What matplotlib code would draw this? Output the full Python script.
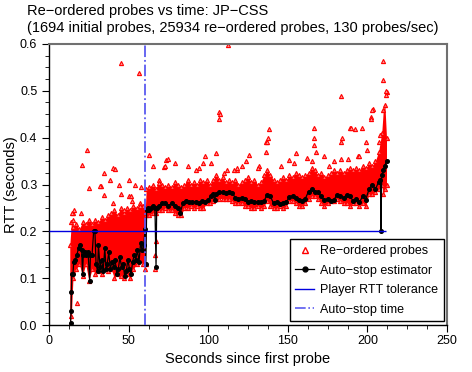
import matplotlib
matplotlib.use("Agg")
import matplotlib.pyplot as plt
from matplotlib.ticker import MultipleLocator, FormatStrFormatter
from matplotlib.lines import Line2D

plt.rcParams["font.family"] = ["Liberation Sans", "DejaVu Sans"]

# Re-ordered probes: dense band (upper / lower edge)
band_t = [13, 14, 15, 17, 19, 21, 23, 25, 27, 29, 31, 33, 35, 37, 39, 41, 43, 45, 47,
          49, 51, 53, 55, 57, 59, 60.5, 61, 63, 65, 67, 69, 71, 73, 75, 77, 79, 81,
          83, 85, 87, 89, 91, 93, 95, 97, 99, 101, 103, 105, 107, 109, 111, 113, 115,
          117, 119, 121, 123, 125, 127, 129, 131, 133, 135, 137, 139, 141, 143, 145,
          147, 149, 151, 153, 155, 157, 159, 161, 163, 165, 167, 169, 171, 173, 175,
          177, 179, 181, 183, 185, 187, 189, 191, 193, 195, 197, 199, 201, 203, 205,
          207, 209, 210, 211, 212]
band_top = [0.17, 0.22, 0.21, 0.215, 0.205, 0.22, 0.215, 0.225, 0.215, 0.225, 0.22,
            0.23, 0.225, 0.235, 0.24, 0.245, 0.235, 0.25, 0.24, 0.25, 0.245, 0.255,
            0.25, 0.26, 0.255, 0.25, 0.29, 0.295, 0.3, 0.29, 0.31, 0.3, 0.295, 0.3,
            0.295, 0.305, 0.3, 0.295, 0.3, 0.31, 0.3, 0.305, 0.3, 0.31, 0.305, 0.31,
            0.3, 0.31, 0.32, 0.31, 0.315, 0.305, 0.31, 0.305, 0.31, 0.3, 0.305, 0.31,
            0.315, 0.305, 0.31, 0.3, 0.305, 0.32, 0.33, 0.32, 0.31, 0.305, 0.31, 0.315,
            0.31, 0.32, 0.315, 0.325, 0.32, 0.315, 0.32, 0.325, 0.335, 0.33, 0.32,
            0.325, 0.315, 0.32, 0.325, 0.33, 0.325, 0.33, 0.325, 0.33, 0.335, 0.33,
            0.335, 0.33, 0.34, 0.335, 0.345, 0.34, 0.35, 0.37, 0.41, 0.46, 0.47, 0.4]
band_bot = [0.0, 0.02, 0.1, 0.12, 0.13, 0.105, 0.13, 0.095, 0.12, 0.11, 0.115, 0.11,
            0.12, 0.115, 0.12, 0.1, 0.11, 0.105, 0.1, 0.11, 0.1, 0.12, 0.13, 0.14,
            0.13, 0.12, 0.235, 0.235, 0.24, 0.24, 0.245, 0.245, 0.25, 0.245, 0.245,
            0.24, 0.235, 0.235, 0.25, 0.25, 0.255, 0.25, 0.255, 0.25, 0.25, 0.26, 0.26,
            0.265, 0.27, 0.27, 0.27, 0.27, 0.27, 0.265, 0.26, 0.26, 0.26, 0.255, 0.255,
            0.25, 0.25, 0.255, 0.25, 0.255, 0.265, 0.255, 0.25, 0.25, 0.255, 0.25,
            0.255, 0.265, 0.265, 0.26, 0.255, 0.255, 0.26, 0.27, 0.275, 0.275, 0.27,
            0.26, 0.255, 0.26, 0.265, 0.265, 0.27, 0.265, 0.26, 0.26, 0.255, 0.26,
            0.26, 0.255, 0.26, 0.255, 0.28, 0.28, 0.285, 0.29, 0.3, 0.28, 0.29, 0.3]

# isolated re-ordered probes outside the band
out_t = [112.5, 45, 56.8, 23.7, 20.7, 25, 32.2, 34.3, 40, 41.6, 17.4, 38.5, 44, 50,
         54, 14.5, 15.5, 62.7, 65, 75, 73, 98, 104.8, 107, 107, 107.2, 125.6, 138,
         137.5, 137, 155, 166.4, 166.5, 166.5, 183.7, 183.8, 190, 192, 196.6, 199,
         203, 202.5, 209.8, 210, 211.8, 211.8, 66.5, 66.8, 67, 60.8, 87, 92, 118,
         131, 146, 176, 188, 195]
out_rtt = [0.597, 0.56, 0.538, 0.374, 0.342, 0.293, 0.297, 0.325, 0.335, 0.333, 0.047,
           0.31, 0.3, 0.31, 0.3, 0.24, 0.245, 0.362, 0.34, 0.355, 0.34, 0.36, 0.367,
           0.44, 0.455, 0.45, 0.363, 0.419, 0.40, 0.39, 0.367, 0.42, 0.40, 0.385,
           0.488, 0.4, 0.42, 0.418, 0.42, 0.39, 0.46, 0.44, 0.564, 0.522, 0.50, 0.49,
           0.12, 0.15, 0.18, 0.13, 0.34, 0.33, 0.335, 0.335, 0.34, 0.34, 0.355, 0.36]

# probes just above the band edge (its spiky fringe)
fringe_t = [32.8, 34.3, 14.9, 14.9, 20.3, 40, 45, 50, 51.6, 52, 57.8, 57, 47, 72.5,
            73.5, 79, 94, 97, 102, 110, 112, 118, 69, 116, 121.5, 124, 132, 136, 136,
            150.7, 154, 162, 165, 168, 172.7, 183.3, 189, 202, 203.3, 199.5, 194,
            183.7, 179, 207, 208, 212.3]
fringe_rtt = [0.296, 0.278, 0.225, 0.24, 0.24, 0.26, 0.28, 0.275, 0.275, 0.265, 0.295,
              0.255, 0.245, 0.338, 0.352, 0.345, 0.335, 0.345, 0.345, 0.325, 0.33, 0.33,
              0.303, 0.33, 0.34, 0.35, 0.34, 0.37, 0.39, 0.352, 0.345, 0.357, 0.35, 0.37,
              0.36, 0.39, 0.42, 0.444, 0.462, 0.373, 0.36, 0.355, 0.351, 0.39, 0.405,
              0.498]

# Auto-stop estimator
est_t = [13.5, 13.8, 14.0, 14.3, 15, 15.5, 16.5, 17.5, 18.5, 19.5, 20.5, 21, 21.5,
         22.5, 23.5, 24.5, 25.5, 26, 27, 28, 28.8, 29.5, 30.5, 31, 32, 33, 34, 35,
         35.8, 36.5, 37.5, 38.5, 39.5, 40.5, 41.5, 42.5, 43.5, 44.5, 45.5, 46.5,
         47.5, 48.5, 49.5, 50.5, 51.5, 52.5, 53.5, 54.5, 55.5, 56.5, 57.5, 58.5,
         59.5, 60.3, 60.8, 61.3, 62, 63, 64, 65, 66.5, 67.2, 67.6, 69, 71, 73, 75,
         77, 79, 81, 82.5, 84, 86, 88, 90, 92, 94, 96, 98, 100, 101.5, 103, 104,
         105, 107, 109, 111, 113, 115, 117, 119, 121, 123, 125, 127, 129, 131, 133,
         135, 137, 139, 141, 143, 145, 147, 149, 151, 153, 155, 157, 159, 161, 163,
         165, 167, 169, 171, 173, 175, 177, 179, 181, 183, 185, 187, 189, 191, 193,
         195, 197, 199, 201, 203, 205, 207, 208.2, 208.5, 209, 210, 211, 212]
est_rtt = [0.005, 0.03, 0.07, 0.11, 0.11, 0.135, 0.14, 0.15, 0.165, 0.17, 0.16, 0.11,
           0.15, 0.155, 0.15, 0.155, 0.095, 0.15, 0.15, 0.2, 0.2, 0.13, 0.115, 0.17,
           0.125, 0.14, 0.115, 0.165, 0.12, 0.13, 0.155, 0.12, 0.135, 0.125, 0.14,
           0.11, 0.12, 0.145, 0.125, 0.13, 0.105, 0.115, 0.14, 0.12, 0.11, 0.135,
           0.15, 0.14, 0.16, 0.135, 0.175, 0.16, 0.17, 0.205, 0.13, 0.245, 0.25,
           0.245, 0.25, 0.255, 0.25, 0.125, 0.25, 0.255, 0.26, 0.26, 0.255, 0.26,
           0.255, 0.25, 0.24, 0.26, 0.265, 0.262, 0.263, 0.262, 0.26, 0.265, 0.262,
           0.268, 0.275, 0.28, 0.268, 0.28, 0.283, 0.283, 0.282, 0.283, 0.282, 0.272,
           0.27, 0.272, 0.27, 0.262, 0.264, 0.262, 0.263, 0.262, 0.265, 0.278, 0.275,
           0.26, 0.262, 0.258, 0.26, 0.262, 0.274, 0.276, 0.272, 0.268, 0.265, 0.27,
           0.285, 0.29, 0.285, 0.283, 0.275, 0.266, 0.27, 0.265, 0.268, 0.278, 0.276,
           0.272, 0.278, 0.275, 0.265, 0.27, 0.262, 0.275, 0.268, 0.29, 0.3, 0.29,
           0.305, 0.31, 0.2, 0.32, 0.33, 0.34, 0.35]

rtt_tolerance = 0.2
last_probe_time = 211.5
auto_stop_time = 60.5

red = "#ff0000"
tri = dict(ls="none", marker="^", ms=3, mec=red, mew=0.8, zorder=2)

fig = plt.figure(figsize=(4.72, 3.72), dpi=100)
ax = fig.add_axes([0.104, 0.126, 0.843, 0.756])

# dense cloud of re-ordered probes
ax.fill_between(band_t, band_bot, band_top, color=red, lw=0, zorder=2)
ax.plot(band_t, band_top, mfc="#ff6060", **tri)
ax.plot(band_t, band_bot, mfc="#ff6060", **tri)
ax.plot(fringe_t, fringe_rtt, mfc="#ff8080", **tri)
ax.plot(out_t, out_rtt, mfc="#ff9090", **tri)

ax.plot(est_t, est_rtt, color="black", lw=0.9, marker="o", ms=2.6, zorder=3)

ax.hlines(rtt_tolerance, 0, last_probe_time, color="#0000e0", lw=1.0, zorder=4)
ax.axvline(auto_stop_time, color="#5a5af0", lw=1.3, ls="-.", zorder=4)

ax.set_xlim(0, 250)
ax.set_ylim(0, 0.6)
ax.xaxis.set_major_locator(MultipleLocator(50))
ax.xaxis.set_minor_locator(MultipleLocator(12.5))
ax.yaxis.set_major_locator(MultipleLocator(0.1))
ax.yaxis.set_minor_locator(MultipleLocator(0.025))
ax.yaxis.set_major_formatter(FormatStrFormatter("%.1f"))
ax.tick_params(which="both", direction="out", labelsize=9, colors="black")
ax.tick_params(which="major", length=5)
ax.tick_params(which="minor", length=3)
ax.tick_params(axis="x", pad=2)
for side in ("top", "right"):
    ax.spines[side].set_color("#707070")
    ax.spines[side].set_linewidth(1.5)
for side in ("left", "bottom"):
    ax.spines[side].set_linewidth(1.0)

ax.set_xlabel("Seconds since first probe", fontsize=10.5, labelpad=4)
ax.set_ylabel("RTT (seconds)", fontsize=10.5)
ax.yaxis.set_label_coords(-0.078, 0.5)

fig.text(27 / 472, 1 - 4 / 372,
         "Re\u2212ordered probes vs time: JP\u2212CSS\n"
         "(1694 initial probes, 25934 re\u2212ordered probes, 130 probes/sec)",
         ha="left", va="top", fontsize=10.5, linespacing=1.25)

handles = [
    Line2D([], [], ls="none", marker="^", ms=5, mec=red, mfc="white", mew=1.0),
    Line2D([], [], color="black", lw=0.9, marker="o", ms=3.5),
    Line2D([], [], color="#0000e0", lw=1.0),
    Line2D([], [], color="#5a5af0", lw=1.2, ls="-."),
]
labels = ["Re\u2212ordered probes", "Auto\u2212stop estimator",
          "Player RTT tolerance", "Auto\u2212stop time"]
leg = ax.legend(handles, labels, loc="lower right", bbox_to_anchor=(0.992, 0.014),
                borderaxespad=0, fontsize=9, fancybox=False, framealpha=1,
                edgecolor="black", handlelength=1.5, labelspacing=0.6,
                handletextpad=0.5, borderpad=0.45)
leg.get_frame().set_linewidth(1.0)
leg.set_zorder(5)

fig.savefig("out.png", dpi=100)
